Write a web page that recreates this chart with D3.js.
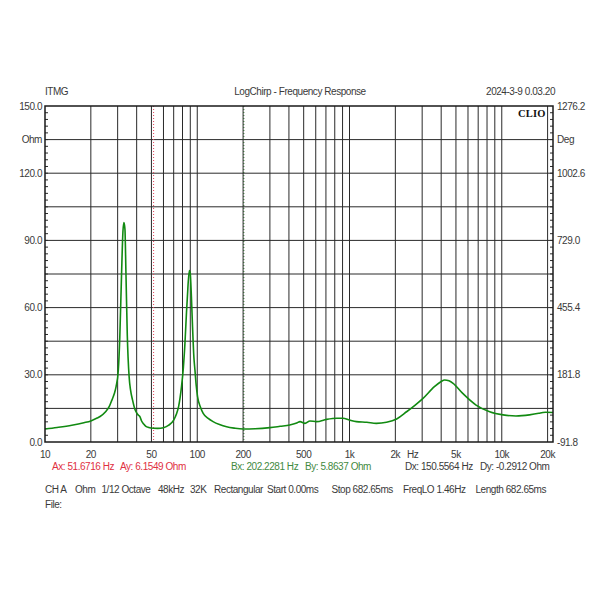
<!DOCTYPE html>
<html>
<head>
<meta charset="utf-8">
<script src="https://cdn.jsdelivr.net/npm/d3@7"></script>
<style>
  html, body { margin: 0; padding: 0; background: #fff; }
  svg text { font-family: "Liberation Sans", Arial, sans-serif; letter-spacing: -0.45px; }
  svg text.clio { font-family: "Liberation Serif", "DejaVu Serif", serif; letter-spacing: 0.2px; }
</style>
</head>
<body>
<svg id="chart" width="600" height="600"></svg>
<script>
// ---------- data ----------
const freqHz = [10, 12, 15, 18, 20, 22, 23, 25, 26.5, 27.5, 28.5, 29.3, 30.3, 31, 31.8, 32.5, 33, 33.5, 34, 34.7, 35.7, 36.5, 37.6, 39, 40, 41, 42, 43, 44.5, 46, 48, 51.7, 55, 60, 65, 70, 73, 75.4, 78.8, 81, 83, 85, 86, 88.7, 90, 91.5, 93.1, 95, 96.6, 98.5, 100.5, 105, 109.4, 118, 127, 140, 156, 175, 200, 240, 300, 350, 405, 450, 473, 510, 550, 607, 707, 825, 906, 1000, 1110, 1300, 1500, 1750, 2040, 2370, 2700, 3040, 3610, 4000, 4210, 4500, 4790, 5540, 6780, 8330, 10200, 12400, 15200, 17500, 18600, 19400, 21700];
const impedanceOhm = [5.8, 6.5, 7.5, 8.6, 9.4, 10.7, 11.4, 13.5, 16, 18.7, 21.5, 24.7, 32, 47, 74, 94, 98, 95, 76, 48, 29, 23, 18.7, 14.5, 13, 12, 11.3, 9.5, 8, 7, 6.5, 6.15, 6.1, 6.4, 7.5, 9.8, 12.5, 15.8, 24.7, 33, 44, 58, 64, 76.5, 75, 65, 51.5, 38, 32, 25, 20.2, 15.5, 12.8, 10.5, 9.1, 7.8, 6.8, 6.2, 5.8, 5.9, 6.4, 7, 7.6, 8.5, 9.1, 8.3, 9.4, 9.1, 10.1, 10.6, 10.6, 9.8, 9.1, 8.8, 8.3, 8.8, 10.3, 13.5, 16.5, 19.5, 24.7, 27, 27.7, 27.3, 26.2, 21.7, 16.5, 13.5, 12.1, 11.6, 12.1, 12.8, 13.2, 13.3, 13.2];

const ohmTicks = [0, 30, 60, 90, 120, 150];
const ohmLabels = ["0.0", "30.0", "60.0", "90.0", "120.0", "150.0"];
const degTicks = [-91.8, 181.8, 455.4, 729.0, 1002.6, 1276.2];
const degLabels = ["-91.8", "181.8", "455.4", "729.0", "1002.6", "1276.2"];
const freqLabelValues = [10, 20, 50, 100, 200, 500, 1000, 2000, 5000, 10000, 20000];
const freqLabelText = ["10", "20", "50", "100", "200", "500", "1k", "2k", "5k", "10k", "20k"];
const cursorA = 51.6716;
const cursorB = 202.2281;

// ---------- layout ----------
const L = 45, R = 553, T = 106, B = 442;
const svg = d3.select("#chart");

const x = d3.scaleLog().domain([10, 21700]).range([L, R]);
const y = d3.scaleLinear().domain([0, 150]).range([B, T]);
const yDeg = d3.scaleLinear().domain([-91.8, 1276.2]).range([B, T]);

const txt = "#3a3a3a";
const fs = "10px";

// grid verticals
const vGrid = [];
for (let dec = 10; dec < 20000; dec *= 10) {
  for (let m = 1; m < 10; m++) {
    const f = dec * m;
    if (f > 10 && f <= 20000) vGrid.push(f);
  }
}
svg.append("g").selectAll("line").data(vGrid).join("line")
  .attr("x1", d => x(d)).attr("x2", d => x(d))
  .attr("y1", T).attr("y2", B)
  .attr("stroke", "#2a2a2a").attr("stroke-width", 1);

// grid horizontals every 15 ohm
const hGrid = d3.range(15, 150, 15);
svg.append("g").selectAll("line").data(hGrid).join("line")
  .attr("x1", L).attr("x2", R)
  .attr("y1", d => y(d)).attr("y2", d => y(d))
  .attr("stroke", "#2a2a2a").attr("stroke-width", 1);

// minor ticks left & right every 3 ohm
const minor = d3.range(3, 150, 3);
svg.append("g").selectAll("line").data(minor).join("line")
  .attr("x1", L).attr("x2", L + 3)
  .attr("y1", d => y(d)).attr("y2", d => y(d))
  .attr("stroke", "#2a2a2a");
svg.append("g").selectAll("line").data(minor).join("line")
  .attr("x1", R - 3).attr("x2", R)
  .attr("y1", d => y(d)).attr("y2", d => y(d))
  .attr("stroke", "#2a2a2a");

// cursors
svg.append("line")
  .attr("x1", x(cursorA)).attr("x2", x(cursorA)).attr("y1", T).attr("y2", B)
  .attr("stroke", "#e0405a").attr("stroke-width", 1).attr("stroke-dasharray", "1,2");
svg.append("line")
  .attr("x1", x(cursorB)).attr("x2", x(cursorB)).attr("y1", T).attr("y2", B)
  .attr("stroke", "#1f5a1f").attr("stroke-width", 1).attr("stroke-dasharray", "1,2");

// curve
const pts = freqHz.map((f, i) => [f, impedanceOhm[i]]);
svg.append("path")
  .datum(pts)
  .attr("fill", "none")
  .attr("stroke", "#118a11")
  .attr("stroke-width", 1.6)
  .attr("stroke-linejoin", "round")
  .attr("d", d3.line().x(d => x(d[0])).y(d => y(d[1])).curve(d3.curveMonotoneX));

// frame
svg.append("rect")
  .attr("x", L).attr("y", T).attr("width", R - L).attr("height", B - T)
  .attr("fill", "none").attr("stroke", "#1a1a1a").attr("stroke-width", 1.5);

// CLIO tag
svg.append("text").attr("class", "clio").attr("x", 518).attr("y", 117)
  .attr("font-weight", "bold").attr("font-size", "10.5px").attr("fill", "#111")
  .text("CLIO");

// left labels
svg.append("g").selectAll("text").data(ohmTicks).join("text")
  .attr("x", 42).attr("y", d => y(d)).attr("dy", "0.35em")
  .attr("text-anchor", "end").attr("font-size", fs).attr("fill", txt)
  .text((d, i) => ohmLabels[i]);
svg.append("text").attr("x", 42).attr("y", y(135)).attr("dy", "0.35em")
  .attr("text-anchor", "end").attr("font-size", fs).attr("fill", txt).text("Ohm");

// right labels
svg.append("g").selectAll("text").data(degTicks).join("text")
  .attr("x", 557).attr("y", d => yDeg(d)).attr("dy", "0.35em")
  .attr("text-anchor", "start").attr("font-size", fs).attr("fill", txt)
  .text((d, i) => degLabels[i]);
svg.append("text").attr("x", 557).attr("y", y(135)).attr("dy", "0.35em")
  .attr("text-anchor", "start").attr("font-size", fs).attr("fill", txt).text("Deg");

// bottom labels
svg.append("g").selectAll("text").data(freqLabelValues).join("text")
  .attr("x", d => x(d)).attr("y", 458)
  .attr("text-anchor", "middle").attr("font-size", fs).attr("fill", txt)
  .text((d, i) => freqLabelText[i]);
svg.append("text").attr("x", x(2600)).attr("y", 458)
  .attr("text-anchor", "middle").attr("font-size", fs).attr("fill", txt).text("Hz");

// header
svg.append("text").attr("x", 45).attr("y", 95).attr("font-size", fs).attr("fill", txt).text("ITMG");
svg.append("text").attr("x", 300).attr("y", 95).attr("text-anchor", "middle").attr("font-size", fs).attr("fill", txt).text("LogChirp - Frequency Response");
svg.append("text").attr("x", 555).attr("y", 95).attr("text-anchor", "end").attr("font-size", fs).attr("fill", txt).text("2024-3-9 0.03.20");

// cursor readouts
const readouts = [
  {x: 52, t: "Ax: 51.6716 Hz", c: "#e0303f"},
  {x: 120, t: "Ay: 6.1549 Ohm", c: "#e0303f"},
  {x: 231, t: "Bx: 202.2281 Hz", c: "#3f8a3f"},
  {x: 305, t: "By: 5.8637 Ohm", c: "#3f8a3f"},
  {x: 405, t: "Dx: 150.5564 Hz", c: txt},
  {x: 480, t: "Dy: -0.2912 Ohm", c: txt}
];
svg.append("g").selectAll("text").data(readouts).join("text")
  .attr("x", d => d.x).attr("y", 470).attr("font-size", fs).attr("fill", d => d.c)
  .text(d => d.t);

const info = [
  {x: 45, t: "CH A"}, {x: 75, t: "Ohm"}, {x: 101.5, t: "1/12 Octave"}, {x: 158, t: "48kHz"},
  {x: 190, t: "32K"}, {x: 214, t: "Rectangular"}, {x: 267, t: "Start 0.00ms"},
  {x: 331.5, t: "Stop 682.65ms"}, {x: 403, t: "FreqLO 1.46Hz"}, {x: 475.5, t: "Length 682.65ms"}
];
svg.append("g").selectAll("text").data(info).join("text")
  .attr("x", d => d.x).attr("y", 492.5).attr("font-size", fs).attr("fill", txt)
  .text(d => d.t);
svg.append("text").attr("x", 45).attr("y", 508).attr("font-size", fs).attr("fill", txt).text("File:");
</script>
</body>
</html>
